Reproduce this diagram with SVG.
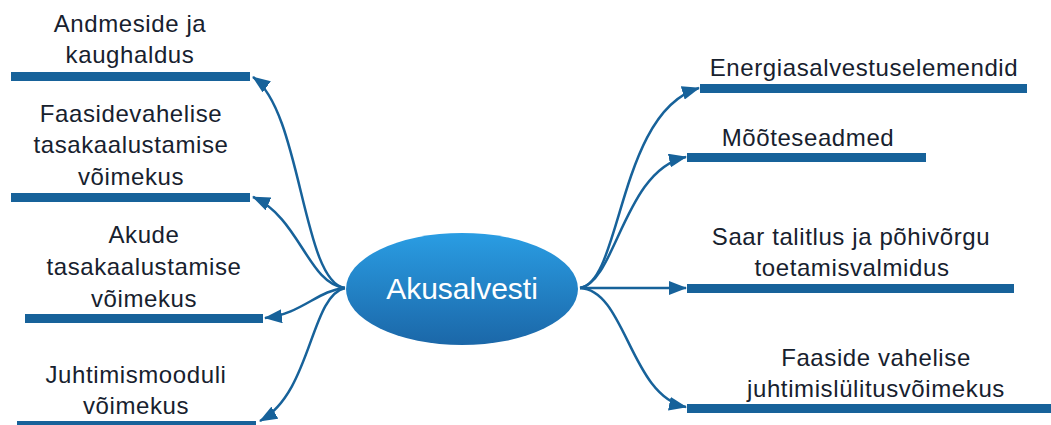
<svg xmlns="http://www.w3.org/2000/svg" width="1051" height="425" viewBox="0 0 1051 425">
  <style>
    .bar { fill: #17629a; }
    .lbl { font-family: "Liberation Sans", Arial, sans-serif; font-size: 24px; fill: #17212e; text-anchor: middle; letter-spacing: 0.6px; }
    .conn { fill: none; stroke: #17629a; stroke-width: 2.5; marker-end: url(#arrow); }
    .hub { font-family: "Liberation Sans", Arial, sans-serif; font-size: 30px; fill: #ffffff; text-anchor: middle; }
  </style>
  <defs>
    <linearGradient id="hubFill" x1="0" y1="0" x2="0" y2="1">
      <stop offset="0" stop-color="#2a9de3"/>
      <stop offset="1" stop-color="#1b67a8"/>
    </linearGradient>
    <marker id="arrow" viewBox="0 0 18 14" refX="17" refY="7" markerWidth="18" markerHeight="14" markerUnits="userSpaceOnUse" orient="auto">
      <path d="M0,0 L18,7 L0,14 z" fill="#17629a"/>
    </marker>
  </defs>

  <rect width="1051" height="425" fill="#ffffff"/>

  <!-- connectors from the central node to each topic -->
  <g id="connectors">
    <path class="conn" d="M345,288 C302,282 302,112 253,77"/>
    <path class="conn" d="M345,288 C308,284 300,218 253,197"/>
    <path class="conn" d="M345,288 C318,290 302,314 265,318"/>
    <path class="conn" d="M345,288 C310,296 312,392 260,421"/>
    <path class="conn" d="M580,288 C622,282 618,112 699,88"/>
    <path class="conn" d="M580,288 C616,282 624,170 686,157"/>
    <path class="conn" d="M580,288 L686,288"/>
    <path class="conn" d="M580,288 C626,290 630,396 686,407"/>
  </g>

  <!-- central node -->
  <g id="akusalvesti">
    <ellipse cx="462" cy="289" rx="116" ry="56" fill="url(#hubFill)"/>
    <text class="hub" x="462" y="299">Akusalvesti</text>
  </g>

  <!-- left topics -->
  <g id="andmeside">
    <rect class="bar" x="11" y="72" width="239" height="9"/>
    <text class="lbl" x="130" y="32">Andmeside ja</text>
    <text class="lbl" x="130" y="63">kaughaldus</text>
  </g>
  <g id="faasidevahelise">
    <rect class="bar" x="11" y="193" width="239" height="9"/>
    <text class="lbl" x="131" y="122">Faasidevahelise</text>
    <text class="lbl" x="131" y="153">tasakaalustamise</text>
    <text class="lbl" x="131" y="185">võimekus</text>
  </g>
  <g id="akude">
    <rect class="bar" x="25" y="314" width="238" height="9"/>
    <text class="lbl" x="144" y="243">Akude</text>
    <text class="lbl" x="144" y="275">tasakaalustamise</text>
    <text class="lbl" x="144" y="307">võimekus</text>
  </g>
  <g id="juhtimismooduli">
    <rect class="bar" x="17" y="421" width="239" height="9"/>
    <text class="lbl" x="136" y="383">Juhtimismooduli</text>
    <text class="lbl" x="136" y="414">võimekus</text>
  </g>

  <!-- right topics -->
  <g id="energiasalvestus">
    <rect class="bar" x="700" y="84" width="327" height="9"/>
    <text class="lbl" x="864" y="76">Energiasalvestuselemendid</text>
  </g>
  <g id="mooteseadmed">
    <rect class="bar" x="687" y="153" width="239" height="9"/>
    <text class="lbl" x="808" y="146">Mõõteseadmed</text>
  </g>
  <g id="saartalitlus">
    <rect class="bar" x="687" y="284" width="327" height="9"/>
    <text class="lbl" x="851" y="245">Saar talitlus ja põhivõrgu</text>
    <text class="lbl" x="852" y="276">toetamisvalmidus</text>
  </g>
  <g id="faaside-vahelise">
    <rect class="bar" x="687" y="404" width="364" height="9"/>
    <text class="lbl" x="876" y="366">Faaside vahelise</text>
    <text class="lbl" x="876" y="397">juhtimislülitusvõimekus</text>
  </g>
</svg>
